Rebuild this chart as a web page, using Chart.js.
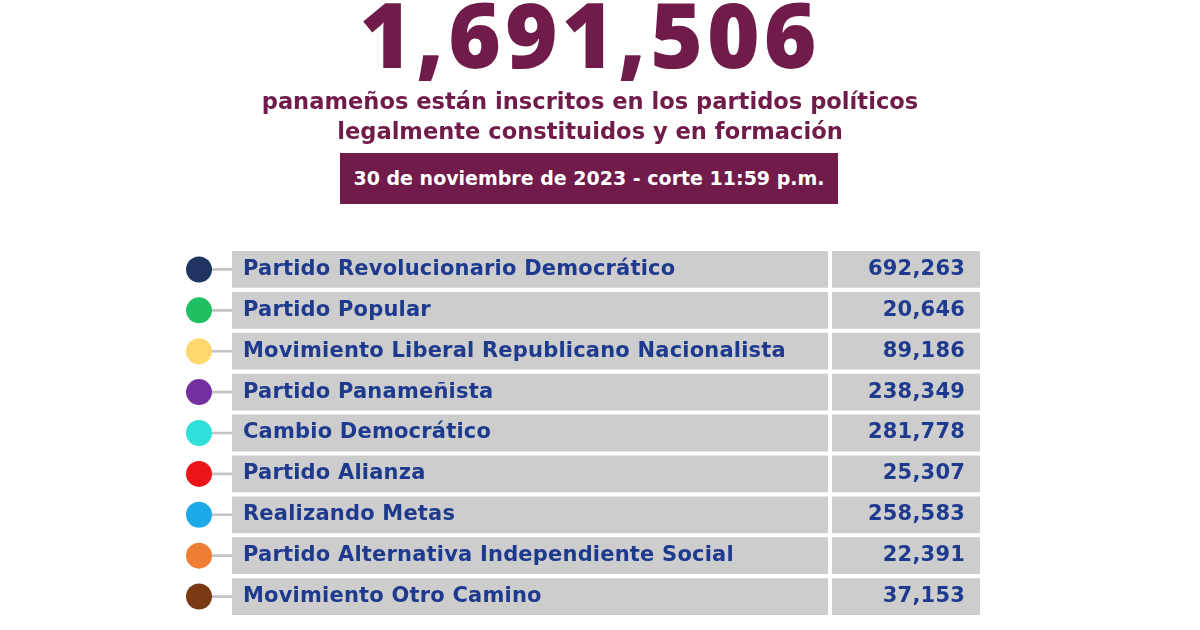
<!DOCTYPE html>
<html lang="es">
<head>
<meta charset="utf-8">
<title>Inscritos en partidos políticos</title>
<script src="https://cdn.jsdelivr.net/npm/chart.js@4.4.1/dist/chart.umd.min.js"></script>
<style>
  html, body { margin: 0; padding: 0; background: #fff; }
  #wrap { position: relative; width: 1200px; height: 630px; overflow: hidden; font-family: "DejaVu Sans", sans-serif; }
  #chart { position: absolute; left: 0; top: 0; }
  .total { position: absolute; left: 0; width: 1180px; top: -22px; text-align: center; color: #701b4a;
           font-family: "Open Sans", sans-serif; font-weight: 800; font-size: 90px; line-height: 110px; letter-spacing: 4px; }
  .sub { position: absolute; left: 0; width: 1180px; top: 86px; text-align: center; color: #701b4a;
         font-weight: 700; font-size: 22.6px; line-height: 30px; }
  .fecha { position: absolute; left: 340px; top: 153px; width: 498px; height: 51px; background: #701b4a;
           color: #fff; font-weight: 700; font-size: 19px; line-height: 51px; text-align: center; }
</style>
</head>
<body>
<div id="wrap">
  <canvas id="chart" width="1200" height="630"></canvas>
  <div class="total" id="total"></div>
  <div class="sub">panameños están inscritos en los partidos políticos<br>legalmente constituidos y en formación</div>
  <div class="fecha">30 de noviembre de 2023 - corte 11:59 p.m.</div>
</div>
<script>
// Data
const total = 1691506;
const partidos = [
    'Partido Revolucionario Democrático',
    'Partido Popular',
    'Movimiento Liberal Republicano Nacionalista',
    'Partido Panameñista',
    'Cambio Democrático',
    'Partido Alianza',
    'Realizando Metas',
    'Partido Alternativa Independiente Social',
    'Movimiento Otro Camino'
];
const inscritos = [692263, 20646, 89186, 238349, 281778, 25307, 258583, 22391, 37153];
const colores = ['#1f3461', '#1fbf62', '#fdd86c', '#7430a0', '#2fe0d9', '#ea1419', '#1ca9e9', '#ef7e35', '#7b3913'];

document.getElementById('total').textContent = total.toLocaleString('en-US');

// Table layout along the hidden x axis (pixel-like units)
const DOT_X = 199;
const CELL_START = 232;
const CELL_SPLIT = 828;
const CELL_END = 980;
const NAME_X = 243;
const VALUE_X = 965;
const TEXT_COLOR = '#1d3a8e';

// Draw names and values inside the cells
const cellText = {
    id: 'cellText',
    afterDatasetsDraw(chart) {
        const ctx = chart.ctx;
        const x = chart.scales.x;
        const y = chart.scales.y;
        ctx.save();
        ctx.fillStyle = TEXT_COLOR;
        ctx.font = 'bold 21px "DejaVu Sans"';
        ctx.letterSpacing = '0.2px';
        ctx.textBaseline = 'middle';
        partidos.forEach((nombre, i) => {
            const py = y.getPixelForValue(i);
            ctx.textAlign = 'left';
            ctx.fillText(nombre, x.getPixelForValue(NAME_X), py);
            ctx.textAlign = 'right';
            ctx.fillText(inscritos[i].toLocaleString('en-US'), x.getPixelForValue(VALUE_X), py);
        });
        ctx.restore();
    }
};

new Chart(document.getElementById('chart'), {
    type: 'bar',
    data: {
        labels: partidos,
        datasets: [
            {
                type: 'line',
                label: 'Partido',
                data: partidos.map(() => DOT_X),
                showLine: false,
                pointRadius: 13,
                pointHoverRadius: 13,
                pointBackgroundColor: colores,
                pointBorderWidth: 0
            },
            {
                label: 'Nombre',
                data: partidos.map(() => [CELL_START, CELL_SPLIT]),
                backgroundColor: '#cdcdcd',
                grouped: false,
                barPercentage: 0.9,
                categoryPercentage: 1
            },
            {
                label: 'Inscritos',
                data: partidos.map(() => [CELL_SPLIT + 4, CELL_END]),
                backgroundColor: '#cdcdcd',
                grouped: false,
                barPercentage: 0.9,
                categoryPercentage: 1
            },
            {
                label: 'Conector',
                data: partidos.map(() => [DOT_X, CELL_START]),
                backgroundColor: '#c4c4c4',
                grouped: false,
                barThickness: 2
            }
        ]
    },
    options: {
        indexAxis: 'y',
        responsive: false,
        animation: false,
        layout: { autoPadding: false, padding: { top: 249, bottom: 13, left: 0, right: 0 } },
        scales: {
            x: { type: 'linear', min: 0, max: 1200, display: false },
            y: { display: false }
        },
        plugins: {
            legend: { display: false },
            tooltip: { enabled: false }
        }
    },
    plugins: [cellText]
});
</script>
</body>
</html>
